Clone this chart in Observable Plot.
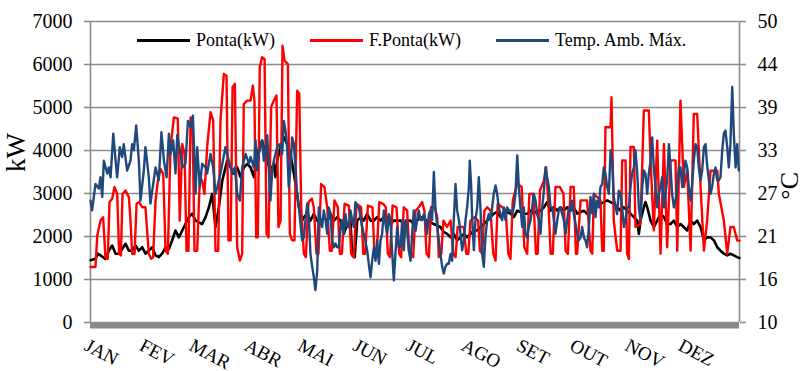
<!DOCTYPE html>
<html><head><meta charset="utf-8">
<script src="https://cdn.jsdelivr.net/npm/d3@7"></script>
<script src="https://cdn.jsdelivr.net/npm/@observablehq/plot@0.6"></script>
<style>
body{margin:0;background:#fff;}
#wrap{position:relative;width:804px;height:371px;font-family:"Liberation Serif","Times New Roman",serif;color:#000;}
#wrap svg{display:block;font-family:"Liberation Serif","Times New Roman",serif !important;}
#wrap svg text, #wrap svg g{font-family:"Liberation Serif","Times New Roman",serif !important;}
.leg{position:absolute;top:30px;height:20px;line-height:20px;font-size:18px;display:flex;align-items:center;white-space:nowrap;}
.leg i{display:inline-block;width:53px;height:3px;margin-right:6px;}
</style></head>
<body><div id="wrap"></div>
<script>
// ---- Data ----
const monthLabels = ["JAN","FEV","MAR","ABR","MAI","JUN","JUL","AGO","SET","OUT","NOV","DEZ"];
const monthStartDays = [0,31,59,90,120,151,181,212,243,273,304,334];
const kwTicks = [0,1000,2000,3000,4000,5000,6000,7000];
const tempTicks = [10,16,21,27,33,39,44,50];
const seriesNames = ["Ponta(kW)","F.Ponta(kW)","Temp. Amb. Máx."];
const seriesColors = ["#000000","#ff0000","#1f497d"];

// [day of year, kW]
const pontaSeries = [[0,1450],[2.8,1480],[4.1,1600],[5.6,1560],[8.4,1480],[10.3,1670],[12.2,1790],[14.1,1600],[16,1600],[17.8,1710],[19.7,1830],[21.6,1670],[23.4,1670],[25.3,1790],[27.2,1670],[29.1,1750],[30.9,1600],[32.8,1670],[34.7,1750],[36.6,1560],[38.4,1520],[40.3,1600],[42.2,1750],[44.1,1710],[45.9,1910],[47.8,2140],[49.7,1980],[51.6,2140],[53.4,2290],[55.3,2450],[57.2,2530],[59.1,2370],[60.9,2330],[62.8,2290],[64.7,2450],[66.6,2680],[68.4,2990],[70.3,2220],[72.2,2680],[74.1,3300],[76.9,3770],[78.8,3610],[80.6,3460],[82.5,3610],[84.4,3380],[86.3,3610],[88.1,3690],[90,3610],[91.9,3380],[93.7,3920],[95.6,4150],[96.5,4230],[97.5,4080],[99.4,3770],[101.2,3530],[103.1,3690],[104,3380],[105,3770],[106.9,4080],[108.7,4310],[110.6,4150],[112.5,3920],[114.4,3460],[116.2,2990],[117.2,2680],[119,2370],[120,2450],[121.9,2530],[123.7,2370],[125.6,2530],[127.5,2370],[129.4,2290],[131.2,2450],[133.1,2370],[135,2530],[136.9,2370],[138.7,2450],[140.6,2370],[142.5,2060],[144.4,2290],[146.2,2370],[147.2,1560],[148.6,1520],[150,2370],[151.9,2450],[153.7,2370],[155.6,2530],[157.5,2370],[159.4,2370],[161.2,2450],[163.1,2370],[165,2450],[166.9,2450],[168.7,2290],[170.6,2370],[172.5,2370],[174.4,2370],[176.2,2290],[178.1,2370],[180,2370],[181.8,2290],[185.6,2450],[189.3,2370],[193.1,2290],[196.8,2220],[198.7,2100],[200.6,2060],[202.5,1980],[204.3,2060],[206.2,1910],[208.1,1980],[210,2060],[211.8,1980],[213.7,2060],[215.6,2140],[217.5,2140],[219.3,2220],[221.2,2290],[223.1,2370],[225,2450],[226.8,2530],[228.7,2570],[230.6,2450],[232.5,2530],[234.3,2570],[236.2,2530],[238.1,2450],[240,2600],[241.8,2570],[243.7,2530],[245.6,2530],[247.5,2600],[249.3,2530],[251.2,2600],[253.1,2600],[255,2680],[256.8,2800],[258.7,2600],[260.6,2680],[262.5,2600],[264.3,2680],[266.2,2600],[268.1,2680],[270,2600],[271.8,2680],[273.7,2530],[275.6,2570],[277.5,2600],[279.3,2530],[281.2,2680],[283.1,2680],[285,2720],[286.8,2760],[288.7,2800],[290.6,2840],[292.5,2800],[294.3,2760],[296.2,2680],[298.1,2600],[300,2680],[301.8,2600],[303.7,2530],[305.6,2450],[307.5,2370],[308.4,2060],[309.3,2370],[311.2,2680],[312.1,2800],[313.1,2680],[315,2370],[316.8,2220],[318.7,2370],[320.6,2530],[322.5,2450],[324.3,2290],[326.2,2290],[328.1,2370],[330,2220],[331.8,2290],[333.7,2220],[335.6,2140],[337.5,2370],[339.3,2290],[341.2,2370],[343.1,2220],[345,1910],[346.8,1980],[348.7,1980],[350.6,1910],[352.5,1750],[354.3,1670],[356.2,1600],[358.1,1560],[359.9,1600],[361.8,1560],[363.7,1520],[365,1500]];

// [day of year, kW]
const foraPontaSeries = [[0,1290],[2.8,1290],[3.8,2020],[5.6,2370],[7.1,2450],[8.4,1520],[9.7,1480],[10.7,2800],[12.2,2880],[13.5,3150],[15,2990],[16.1,1600],[17.1,1560],[18,2990],[19.7,3070],[21.6,2910],[22.5,2370],[23.4,1600],[24.8,1600],[25.9,2760],[27.4,2800],[29.1,2680],[30.9,2680],[32.8,1600],[34.1,1480],[35.2,1520],[36.6,2840],[37.9,3300],[39.4,3570],[40.9,3460],[42.2,1670],[43.5,1600],[45,4080],[46.9,4770],[49.1,4740],[50.2,2370],[51.6,4150],[52.9,3920],[54,1670],[55.1,1670],[56.3,4770],[57.4,4700],[58.5,1670],[60,1670],[61.5,3380],[62.8,3300],[64.1,2990],[65.6,4080],[67.5,4890],[69,4700],[70.3,1670],[71.8,1670],[73.1,4700],[75,5780],[76.5,5740],[77.6,1910],[78.8,1910],[79.9,5470],[81.2,5550],[82.5,1750],[84,1440],[85.3,1600],[86.2,5080],[88.1,5160],[90,5160],[91.3,5510],[92.2,5160],[93.2,1980],[94.1,1980],[95.2,5940],[96.5,6170],[97.9,6130],[99,2060],[100.1,1980],[101.6,5010],[103.1,5160],[104.6,5280],[105.7,2220],[106.9,2370],[108,6440],[109.1,6090],[111,6010],[112.1,2060],[113.4,1910],[114.7,1910],[116.2,5390],[117.4,5320],[118.5,2680],[120,1600],[121.1,1520],[122.6,2800],[124.5,2880],[125.6,2680],[127.1,1600],[128.2,1600],[129.7,3220],[131.6,3150],[133.1,2680],[134.6,1670],[135.7,1670],[137.2,2840],[139.1,2680],[140.2,1600],[141.4,1600],[142.9,2760],[145.3,2720],[146.6,1600],[148.1,1520],[149.6,2760],[152.2,2680],[153.4,1600],[154.5,1600],[156,2720],[158.6,2680],[159.7,1600],[160.9,1520],[162.4,2800],[164.6,2760],[166.1,2680],[167.2,1600],[168.4,1520],[169.9,2720],[172.1,2680],[173.6,1600],[174.7,1520],[176.2,2680],[178.1,2600],[179.2,1670],[181.5,1520],[182.8,2600],[184.6,2680],[186.5,2800],[187.8,2600],[189,1600],[190.3,1520],[191.5,2680],[193.5,2680],[195,2450],[195.9,1520],[197.3,1600],[198.5,2370],[200.5,2220],[202.5,2370],[204,1600],[205.3,1520],[206.5,2220],[208.5,2220],[210,2220],[211.3,1600],[212.5,1600],[213.7,2370],[216,2450],[218,2370],[219,1670],[220.3,1600],[221.5,2600],[223.1,2680],[225,2600],[226.5,1600],[227.8,1440],[229,2760],[231.5,2680],[233.5,2600],[235,1600],[236.2,1480],[237.5,2840],[240,3230],[242.5,3150],[244,1750],[245.6,1600],[246.8,2990],[249,2990],[250.5,1600],[251.5,1600],[252.8,3070],[255,3300],[256.2,3610],[257.5,2800],[258.8,1600],[260,1600],[261.5,3150],[264,3150],[266,3000],[267.2,1670],[268.5,1600],[270,3150],[271.8,3150],[273,1600],[273.7,1600],[275.6,2840],[279.3,2840],[281.2,1670],[282.2,1600],[283.1,2990],[286.8,2840],[287.8,1670],[288.7,1670],[289.6,4540],[292.5,4540],[293,5240],[294.3,2370],[296.2,1670],[298.1,1670],[299,3770],[300.9,3770],[301.8,1600],[302.8,1480],[303.7,4080],[305.6,4080],[306.5,2220],[309.3,2290],[311.2,4930],[314,4930],[315,3770],[316.8,2140],[318.7,4230],[320.6,1600],[322.5,4150],[324.3,1750],[326.2,3770],[329,3770],[330,1670],[331.8,5160],[333.7,3150],[335.6,3530],[337.5,1670],[339.3,4850],[341.2,4850],[343.1,3150],[345,1670],[346.8,2370],[348.7,3530],[352.5,3530],[353.4,2990],[356.2,2370],[358.1,1600],[359.9,2220],[361.8,2220],[363.7,1910],[365,1900]];

// [day of year, °C]
const tempSeries = [[0,26.2],[0.9,24.9],[2.8,28.4],[4.7,27.8],[5.6,29.3],[6.6,26.7],[7.5,31.5],[9.4,29.8],[10.3,30.6],[11.3,29.3],[12.8,35.1],[14.1,31.5],[15,29.3],[16.5,33.3],[17.8,32],[18.7,33.7],[20.6,30.2],[22.5,31.5],[23.4,33.7],[24.4,32.9],[25.7,36.2],[27.2,31.5],[28.1,26.2],[30,30.2],[30.9,33.3],[32.8,29.3],[33.7,25.8],[34.7,27.5],[36.6,30.6],[38.4,28.9],[39.9,35.3],[41.3,31.5],[42.8,29.3],[44.1,35.1],[45,32.4],[46.5,34.2],[47.8,29.8],[48.8,34.9],[50.6,32.4],[51.6,30.6],[53.4,31.1],[54.8,36.8],[56.3,36],[57.6,37.5],[59.1,27.1],[60,33.3],[61.5,28],[62.8,31.1],[64.7,30.6],[65.6,29.8],[67.5,32.4],[69,30.6],[70.3,27.1],[71.3,28],[73.1,29.8],[75.9,33.3],[77.8,31.5],[79.7,29.8],[81.2,30.6],[82.5,27.1],[84,26.2],[85.3,30.6],[87.2,32.4],[89.1,31.1],[90,32],[91.9,30.6],[92.8,34.2],[93.7,30.2],[94.7,32.4],[96.6,34.2],[97.5,31.5],[98.4,32.4],[99.4,34.9],[100.3,30.2],[101.2,26.2],[102.2,30.2],[103.1,31.5],[105,33.3],[106.5,33.7],[107.8,32.4],[108.7,36.8],[109.7,35.5],[110.6,33.3],[111.5,28],[112.5,30.6],[113.4,34.6],[114.4,33.7],[115.3,30.6],[116.2,27.1],[117.2,25.3],[118.1,23.1],[119,20.9],[120,21.3],[120.9,23.6],[121.9,25.8],[122.8,24],[123.7,19.1],[124.7,17.4],[125.6,16],[126.5,14.3],[127.5,16.9],[128.4,25.3],[129.4,23.6],[130.3,22.7],[131.2,24.9],[132.2,23.6],[133.1,21.8],[134,25.3],[135,24.4],[135.9,20.9],[136.9,20],[137.8,20.5],[138.7,20],[139.7,20],[140.6,22.7],[141.5,23.6],[142.5,21.8],[143.4,24.4],[144.4,22.7],[145.3,22.7],[146.2,24.9],[147.2,23.6],[148.1,22.7],[149,26],[150,25.3],[150.9,25.3],[152.8,22.7],[153.7,21.8],[155.6,19.6],[156.5,17.8],[157.5,16],[158.4,18.2],[159.4,20],[160.3,18.2],[161.2,20.9],[162.2,17.8],[163.1,20.9],[164,21.8],[165,24.9],[165.9,23.1],[166.9,21.8],[167.8,24.4],[168.7,23.6],[169.7,19.1],[170.6,15.6],[171.5,19.1],[172.5,22.7],[173.4,20],[174.4,20],[175.3,23.6],[176.2,19.6],[177.2,23.6],[178.1,22.2],[179,19.6],[180,18.2],[180.9,21.8],[181.8,24.9],[182.8,22.2],[183.7,23.6],[184.6,24.9],[185.6,23.6],[186.5,23.6],[187.5,24.4],[188.4,23.6],[189.3,21.8],[190.3,24.4],[191.2,24.9],[192.1,23.6],[193.1,30],[194,25.3],[195,22.7],[195.9,20.9],[196.8,19.1],[197.8,17.4],[198.7,16.5],[199.6,17.4],[200.6,17.8],[201.5,17.8],[202.5,19.1],[203.4,18.2],[204.3,23.6],[205.3,28.4],[206.2,24.9],[207.2,23.6],[208.1,21.8],[209,19.6],[210,20.9],[210.9,23.6],[211.8,25.3],[212.8,28],[213.3,31.5],[214.1,28],[214.7,23.6],[215.6,19.6],[216.5,23.6],[217.5,25.3],[218.4,29.3],[219.3,25.3],[220.3,19.1],[221.2,17.4],[222.1,21.3],[223.1,23.6],[224,24.4],[225,23.6],[225.9,25.3],[226.8,27.1],[227.8,28.2],[228.7,27.1],[229.6,25.3],[230.6,24.4],[231.5,23.6],[232.5,25.3],[233.4,23.6],[234.3,25.3],[235.3,24.9],[236.2,24.9],[237.1,24.4],[238.1,25.3],[239,27.1],[240,32.2],[240.9,28],[241.8,25.3],[242.8,22.7],[243.7,25.3],[244.6,21.8],[245.6,21.3],[246.5,22.7],[247.5,23.6],[248.4,25.3],[249.3,27.1],[250.3,26.2],[251.2,24.4],[252.1,23.6],[253.1,21.8],[254,25.3],[255,27.5],[255.9,30.6],[256.8,29.3],[257.8,28],[258.7,25.3],[259.7,25.3],[260.6,23.6],[261.5,21.8],[262.5,23.6],[263.4,24.9],[264.3,25.3],[266.2,23.6],[267.2,21.8],[268.1,23.6],[269,25.3],[270,24.9],[270.9,26.2],[271.8,24.4],[272.8,23.1],[273.7,21.8],[274.6,20.9],[275.6,21.3],[276.5,22.7],[277.5,21.3],[278.4,20.9],[279.3,20],[280.3,22.7],[281.2,26.7],[282.1,24.5],[283.1,27.1],[284,24],[284.9,26.2],[285.9,25.3],[286.8,28],[287.8,28.4],[288.7,30.6],[289.6,29.8],[290.6,28],[291.5,27.1],[292.5,32.9],[293.4,31.5],[294.3,26.7],[295.3,25.3],[296.2,24.4],[297.1,27.5],[298.1,27.1],[299,25.3],[300,22.7],[300.9,23.6],[301.8,25.3],[302.8,25.3],[303.7,28],[304.6,29.8],[305.6,30.6],[306.5,32.9],[307.5,29.8],[308.4,25.3],[309.3,23.6],[310.3,28],[311.2,30.2],[312.1,29.8],[313.1,27.1],[314,29.8],[315,31.5],[315.9,34.6],[316.8,30.6],[317.8,28],[318.7,25.3],[319.6,27.1],[320.6,28],[321.5,29.3],[322.5,25.3],[323.4,27.1],[324.3,28.9],[325.3,33.7],[326.2,30.6],[327.1,27.1],[328.1,25.3],[329,26.2],[330,28],[330.9,30.6],[331.8,30.6],[332.8,28],[333.7,29.8],[334.6,31.5],[335.6,30.6],[336.5,28],[337.5,26.2],[338.4,28.4],[339.3,31.5],[340.3,33.7],[341.2,33.3],[342.1,30.6],[343.1,28.9],[344,30.2],[345,33.3],[345.9,33.7],[346.8,30.9],[347.8,28.9],[348.7,27.1],[349.6,28],[350.6,29.8],[351.5,30.6],[352.5,28.9],[353.4,28.9],[354.3,29.3],[355.3,32.9],[356.2,35.1],[357.1,35.5],[358.1,33.3],[359,30.6],[359.9,33.7],[360.9,41.3],[361.8,35.1],[362.8,30.6],[363.7,33.7],[364.6,30.2]];

// ---- Build ----
const TEMP_MIN = tempTicks[0], TEMP_MAX = tempTicks[tempTicks.length - 1];
const KW_MAX = kwTicks[kwTicks.length - 1];
const tempToKw = t => (t - TEMP_MIN) / (TEMP_MAX - TEMP_MIN) * KW_MAX;

const ponta = pontaSeries.map(([day, v]) => ({day, v}));
const fora = foraPontaSeries.map(([day, v]) => ({day, v}));
const temp = tempSeries.map(([day, t]) => ({day, v: tempToKw(t)}));
const months = monthLabels.map((m, i) => ({m, day: monthStartDays[i]}));

const GRID = "#8c8c8c";
const FONT = "Liberation Serif, Times New Roman, serif";

const chart = Plot.plot({
  width: 804, height: 371,
  marginLeft: 90, marginRight: 65, marginTop: 21, marginBottom: 49,
  style: "font-family: 'Liberation Serif', 'Times New Roman', serif; background: #fff; color: #000; overflow: visible;",
  x: {domain: [0, 365], axis: null},
  y: {domain: [0, KW_MAX], axis: null},
  marks: [
    Plot.gridY(kwTicks, {stroke: GRID, strokeOpacity: 1, strokeWidth: 1.6}),
    Plot.ruleX([0, 365], {stroke: GRID, strokeWidth: 1.6}),
    Plot.axisY(kwTicks, {anchor: "left", tickSize: 6, tickPadding: 12, fontSize: 20, fontFamily: FONT,
      stroke: GRID, strokeWidth: 1.6, fill: "#000", label: null, tickFormat: d => String(d)}),
    Plot.axisY(kwTicks, {anchor: "right", tickSize: 6, tickPadding: 12, fontSize: 20, fontFamily: FONT,
      stroke: GRID, strokeWidth: 1.6, fill: "#000", label: null,
      tickFormat: d => String(tempTicks[kwTicks.indexOf(d)])}),
    Plot.line(ponta, {x: "day", y: "v", stroke: seriesColors[0], strokeWidth: 2.6}),
    Plot.line(fora, {x: "day", y: "v", stroke: seriesColors[1], strokeWidth: 2.4}),
    Plot.line(temp, {x: "day", y: "v", stroke: seriesColors[2], strokeWidth: 2.4}),
    Plot.ruleY([0], {stroke: "#8a8a8a", strokeWidth: 6, dy: 3}),
    Plot.text(months, {x: "day", y: 0, text: "m", rotate: 28, textAnchor: "start", lineAnchor: "top",
      dx: -1, dy: 15, fontSize: 19, fontFamily: FONT, fill: "#000"}),
    Plot.text(["kW"], {frameAnchor: "left", text: d => d, rotate: -90, dx: -74, fontSize: 27, fontFamily: FONT, fill: "#000"}),
    Plot.text(["°C"], {frameAnchor: "right", text: d => d, rotate: -90, dx: 50, fontSize: 26, fontFamily: FONT, fill: "#000"})
  ]
});

const wrap = document.getElementById("wrap");
wrap.appendChild(chart);

// legend inside plot area
const legendLeft = [137, 310, 496];
seriesNames.forEach((name, i) => {
  const div = document.createElement("div");
  div.className = "leg";
  div.style.left = legendLeft[i] + "px";
  const sw = document.createElement("i");
  sw.style.background = seriesColors[i];
  div.appendChild(sw);
  div.appendChild(document.createTextNode(name));
  wrap.appendChild(div);
});
</script></body></html>
